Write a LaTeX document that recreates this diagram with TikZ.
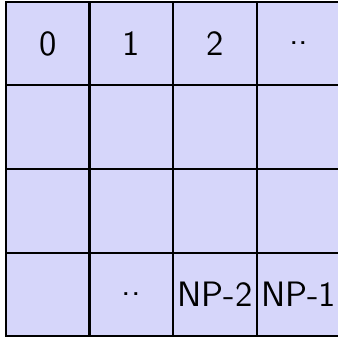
\documentclass[tikz,border=0pt]{standalone}
\usepackage{tikz}
\definecolor{cellfill}{HTML}{D6D6FA}
\tikzset{
    cell/.style={
        rectangle, draw=black, fill=cellfill, line width=0.7pt,
        minimum width=1cm, minimum height=1cm, inner sep=0pt,
        font=\large\sffamily
    },
}
\begin{document}
\begin{tikzpicture}
    \useasboundingbox (-0.07,-0.01) rectangle (3.97,4.02);

    % ── Top row ──
    \node[cell] (c00) at (0.5,3.5) {0};
    \node[cell] (c01) at (1.5,3.5) {1};
    \node[cell] (c02) at (2.5,3.5) {2};
    \node[cell] (c03) at (3.5,3.5) {..};

    % ── Middle rows ──
    \foreach \row in {1,2} {
        \foreach \col in {0,...,3} {
            \node[cell] (c\row\col) at (\col+0.5,3.5-\row) {};
        }
    }

    % ── Bottom row ──
    \node[cell] (c30) at (0.5,0.5) {};
    \node[cell] (c31) at (1.5,0.5) {..};
    \node[cell] (c32) at (2.5,0.5) {NP-2};
    \node[cell] (c33) at (3.5,0.5) {NP-1};

\end{tikzpicture}
\end{document}
